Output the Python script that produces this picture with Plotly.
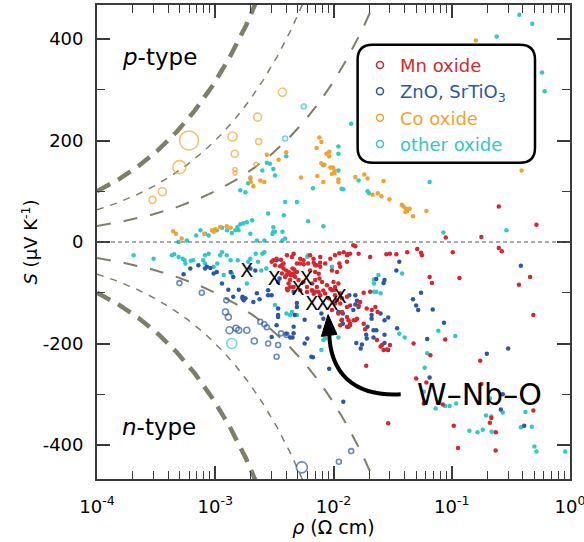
import numpy as np
import plotly.graph_objects as go

# ---------------- data (rho in ohm cm, S in uV/K) ----------------
mn_dots = [
    (3.0e-3, -39), (3.2e-3, -46), (3.54e-3, -48), (3.78e-3, -52), (3.98e-3, -56), (4.17e-3, -59),
    (4.3e-3, -62), (4.6e-3, -65.5), (4.0e-3, -65.5), (3.66e-3, -62), (3.9e-3, -69),
    (4.04e-3, -26), (4.45e-3, -29.5), (4.6e-3, -23), (5.23e-3, -33), (5.57e-3, -36), (6.35e-3, -26),
    (6.77e-3, -33), (7.73e-3, -29.5), (7.0e-3, -46), (7.73e-3, -49), (8.5e-3, -42.5), (9.4e-3, -33),
    (1.03e-2, -26), (9.7e-3, -56), (1.07e-2, -59), (1.12e-2, -42.5), (1.22e-2, -20), (1.3e-2, -26),
    (1.38e-2, -23), (1.14e-2, -49), (1.3e-2, -39),
    (4.17e-3, -82), (4.3e-3, -88.5), (4.1e-3, -95), (4.6e-3, -88.5), (4.3e-3, -75), (4.04e-3, -92),
    (5.06e-3, -75), (5.57e-3, -79), (5.96e-3, -88.5), (5.23e-3, -95), (6.56e-3, -95), (7.24e-3, -88.5),
    (7.0e-3, -98), (7.73e-3, -105), (8.5e-3, -101.5), (9.1e-3, -111), (9.7e-3, -95), (1.03e-2, -88.5),
    (1.0e-2, -79), (1.1e-2, -82), (1.14e-2, -101.5), (1.18e-2, -111), (1.03e-2, -121), (9.7e-3, -134),
    (1.18e-2, -138), (1.3e-2, -128), (1.3e-2, -148), (1.14e-2, -164), (1.3e-2, -167), (1.38e-2, -160.5),
    (1.53e-2, -154), (3.1e-3, -36), (3.3e-3, -33), (3.6e-3, -35), (3.66e-3, -46), (3.78e-3, -42.5),
    (1.47e-2, -6.5), (1.12e-2, -22), (1.31e-2, -24), (1.63e-2, -23), (2.04e-2, -29.5), (2.8e-2, -24),
    (3.0e-2, -23), (3.4e-2, -24), (4.2e-2, -20), (5.1e-2, -14), (5.6e-2, -26),
    (4.9e-3, -42.5), (5.2e-3, -42.5), (5.6e-3, -44), (6.1e-3, -42.5), (6.8e-3, -41), (7.2e-3, -46),
    (7.7e-3, -41), (4.5e-3, -52), (4.65e-3, -54), (4.9e-3, -59), (4.6e-3, -62), (4.75e-3, -69),
    (4.35e-3, -65.5), (6.35e-3, -56), (7.0e-3, -59), (7.5e-3, -62.5), (7.6e-3, -72), (8.0e-3, -79),
    (7.0e-3, -75), (6.6e-3, -82), (8.8e-3, -85), (9.4e-3, -92), (1.03e-2, -94), (8.2e-3, -95.5),
    (7.5e-3, -98.7), (6.8e-3, -102), (6.6e-3, -95.5), (5.96e-3, -98.7),
    (1.03e-2, -105), (1.07e-2, -115), (1.14e-2, -121), (1.14e-2, -102), (1.3e-2, -108), (1.38e-2, -125),
    (1.63e-2, -125), (1.68e-2, -118), (1.8e-2, -100), (2.04e-2, -98), (1.91e-2, -131), (2.11e-2, -134),
    (2.26e-2, -128), (2.36e-2, -138), (1.18e-2, -153), (1.34e-2, -154), (1.38e-2, -164), (1.48e-2, -154),
    (1.58e-2, -151), (1.8e-2, -161), (1.85e-2, -172), (2.33e-2, -193), (2.57e-2, -203), (2.65e-2, -213),
    (2.83e-2, -212), (3.0e-2, -203), (4.76e-2, -200), (1.1e-2, -141), (2.9e-2, -357), (1.89e-2, -244),
    (2.5e-2, -206), (5.0e-2, -269), (5.8e-2, -318),
    (5.5e-2, -21), (0.102, -20), (0.25, -12), (0.265, -18), (6.5e-2, -69), (6.8e-2, -81), (0.116, -71),
    (0.37, -84), (0.46, -69), (0.49, -144), (8.8e-2, -192), (6.6e-2, -223), (0.174, -234), (6.1e-2, -277),
    (0.178, -280), (8.4e-2, -320), (0.216, -347), (0.21, -356), (0.236, -375), (0.49, -332), (0.104, -362),
    (0.113, -406), (0.235, -411),
    (0.25, 70), (0.52, 34), (8.9e-2, 8.7), (0.178, 10), (1.53e-2, -8.5),
]

zn_dots = [
    (5.4e-4, -63.5), (6.15e-4, -52), (7.2e-4, -46), (8.2e-4, -52), (8.5e-4, -49), (9.1e-4, -51),
    (9.7e-4, -62), (1.03e-3, -59), (1.14e-3, -82), (1.35e-3, -59), (1.42e-3, -69), (1.29e-3, -94),
    (1.58e-3, -94), (1.7e-3, -111), (1.74e-3, -115), (1.8e-3, -111), (1.7e-3, -108), (1.42e-3, -108),
    (1.98e-3, -52), (2.18e-3, -56), (2.25e-3, -101), (2.1e-3, -118), (2.37e-3, -113), (2.8e-3, -105),
    (2.8e-3, -95), (3.0e-3, -105), (3.4e-3, -79), (3.5e-3, -72), (3.3e-3, -36), (3.4e-3, -144),
    (3.4e-3, -131), (4.6e-3, -167), (4.6e-3, -180), (4.3e-3, -188), (4.5e-3, -188), (4.0e-3, -181),
    (4.7e-3, -144), (4.9e-3, -128), (4.9e-3, -120), (4.6e-3, -98), (5.7e-3, -153), (6.0e-3, -190),
    (5.7e-3, -200), (6.5e-3, -226), (7.9e-3, -141), (8.2e-3, -151), (9.1e-3, -162), (7.6e-3, -167),
    (8.8e-3, -176), (1.1e-2, -138), (1.2e-2, -141), (1.17e-2, -154), (1.2e-2, -161), (1.34e-2, -167),
    (1.36e-2, -105), (1.53e-2, -105), (1.58e-2, -116), (1.53e-2, -123), (1.63e-2, -128), (1.47e-2, -134),
    (1.56e-2, -199), (1.74e-2, -202), (1.7e-2, -210), (1.89e-2, -183), (1.91e-2, -190), (2.18e-2, -188),
    (2.18e-2, -174), (1.94e-2, -167), (2.1e-2, -144), (2.1e-2, -151), (2.5e-2, -141), (2.7e-2, -154),
    (2.9e-2, -149), (2.3e-2, -174), (2.7e-2, -183), (2.7e-2, -199), (2.9e-2, -213), (3.45e-2, -170),
    (3.6e-2, -39), (3.4e-2, -56), (2.3e-2, -73), (2.7e-2, -75), (2.65e-2, -81), (4.7e-2, -113),
    (5.0e-2, -125), (5.2e-2, -134), (0.384, -47), (5.5e-2, -100), (6.9e-2, -133), (8.6e-2, -159),
    (6.2e-2, -191), (0.30, -210), (0.198, -220), (6.5e-2, -267), (0.27, -300), (0.26, -330),
    (0.41, -362), (1.21e-2, -315), (6.7e-3, -227), (9.2e-3, -250), (3.3e-3, -164), (3.4e-3, -148),
    (3.0e-3, -187),
]

co_dots = [
    (1.98e-3, 127), (2.0e-3, 118), (2.4e-3, 121), (2.6e-3, 118), (2.1e-3, 110), (3.43e-3, 162),
    (3.98e-3, 177), (2.73e-3, 172), (4.4e-4, 21), (4.65e-4, 16.5), (5.2e-4, 7), (8.07e-4, 16.5),
    (9.4e-4, 23), (9.7e-4, 20), (1.0e-3, 25), (1.1e-3, 29.5), (1.25e-3, 31), (1.35e-3, 28),
    (7.6e-3, 206), (7.9e-3, 197), (7.2e-3, 185), (8.7e-3, 174), (9.2e-3, 178), (9.2e-3, 169),
    (7.9e-3, 155), (8.4e-3, 152), (9.4e-3, 147), (9.9e-3, 147), (1.02e-2, 141), (1.02e-2, 136),
    (9.7e-3, 134), (7.3e-3, 130), (8.2e-3, 118), (5.3e-3, 127), (1.1e-2, 123), (1.1e-2, 118),
    (1.53e-2, 128), (1.82e-2, 133), (1.94e-2, 125), (2.65e-2, 120), (2.14e-2, 93), (2.37e-2, 96),
    (2.54e-2, 90), (2.97e-2, 84), (3.78e-2, 73.5), (3.9e-2, 70), (4.1e-2, 65.7), (4.2e-2, 61),
    (4.06e-2, 59), (4.4e-2, 65.7), (4.7e-2, 50.5), (6.1e-2, 61), (0.16, 397), (0.39, 141),
]

other_dots = [
    (3.98e-3, 169), (2.73e-3, 156), (2.9e-3, 154), (2.5e-3, 141), (3.1e-3, 144), (3.2e-3, 131),
    (1.98e-3, 125), (1.9e-3, 116), (1.63e-3, 102), (1.8e-3, 98), (3.9e-3, 79), (4.9e-3, 79),
    (2.8e-3, 56), (3.8e-3, 52.5), (3.1e-3, 29), (3.1e-3, 20), (3.05e-3, 16), (3.9e-3, 7),
    (3.7e-3, 3), (2.6e-3, 3), (2.05e-3, 43), (1.85e-3, 39), (1.73e-3, 37), (1.63e-3, 35),
    (1.54e-3, 29.5), (1.48e-3, 23), (1.38e-3, 17.7), (1.26e-3, 23), (1.14e-3, 28.3), (1.03e-3, 23),
    (8.8e-4, 13), (8.2e-4, 16.5), (6.9e-4, 13), (5.75e-4, 3), (4.9e-4, 0), (7.5e-4, 23),
    (1.57e-3, 23), (1.98e-3, 16.5), (2.25e-3, 3), (3.2e-3, 20), (3.7e-3, 20),
    (0.373, 448), (0.48, 430), (0.24, 405), (0.58, 334), (0.61, 297), (1.41e-2, 233),
    (1.1e-2, 188), (1.1e-2, 174), (6.7e-3, 106), (1.63e-2, 121), (1.17e-2, 105), (1.94e-2, 100),
    (2.0e-2, 96), (6.5e-2, 118), (6.1e-3, 41), (8.2e-3, 31), (8.5e-2, 18.5), (0.29, 23),
    (8.2e-3, 151), (1.1e-2, 141), (1.21e-2, 104),
    (2.04e-4, -26), (3.01e-4, -33), (4.3e-4, -26), (4.5e-4, -24), (4.9e-4, -29.5), (5.3e-4, -33),
    (5.5e-4, -36), (5.6e-4, -42.5), (6.2e-4, -37), (6.5e-4, -36), (8.2e-4, -26), (8.8e-4, -23),
    (9.7e-4, -49), (1.04e-3, -42.5), (1.14e-3, -20), (1.25e-3, -26), (1.35e-3, -36), (1.18e-3, -65),
    (1.38e-3, -62), (1.55e-3, -36), (1.85e-3, -82), (1.9e-3, -39), (1.98e-3, -33), (2.2e-3, -23),
    (2.3e-3, -39), (2.45e-3, -56), (2.5e-3, -23), (2.6e-3, -20), (2.7e-3, -52), (3.2e-3, -124),
    (4.0e-3, -141), (4.45e-3, -138), (4.9e-3, -144), (7.9e-4, -36), (8.2e-4, -42.5), (1.1e-3, -26),
    (4.6e-3, -24), (6.1e-3, -26), (6.0e-3, -29), (9.7e-3, -49), (4.3e-3, -144), (8.2e-3, -193),
    (8.5e-3, -190), (1.1e-2, -188), (7.9e-3, -213), (2.3e-2, -98), (2.2e-2, -98), (2.2e-2, -82),
    (2.2e-2, -74), (3.8e-2, -62), (4.0e-2, -188), (8.5e-3, -172), (2.4e-2, -65), (2.5e-2, -101),
    (7.7e-2, -175), (0.107, -185), (6.2e-2, -219), (5.9e-2, -248), (5.8e-2, -295), (7.3e-2, -328),
    (8.8e-2, -323), (9.6e-2, -323), (0.109, -318), (0.21, -308), (0.195, -342), (0.216, -344),
    (0.141, -372), (0.165, -375), (0.183, -370), (0.217, -374), (0.27, -336), (0.384, -365),
    (0.475, -364), (0.42, -335), (0.5, -403), (0.52, -413), (0.91, -413), (3.6e-2, -181),
]

# open-circle samples: rho, S and symbol diameter (px)
co_open_rho = [2.95e-4, 3.57e-4, 4.97e-4, 6.0e-4, 1.4e-3, 1.46e-3, 1.47e-3, 1.47e-3, 2.28e-3, 2.33e-3, 2.21e-3, 3.7e-3]
co_open_S = [83, 99, 147.5, 200, 208, 174, 143, 136, 246, 198, 153, 295]
co_open_d = [7, 8, 13, 19, 9, 7, 4, 4, 8, 6, 4, 8]

zn_open_rho = [4.98e-4, 7.7e-4, 1.24e-3, 1.22e-3, 1.29e-3, 1.32e-3, 1.5e-3, 1.58e-3, 1.85e-3, 2.14e-3,
               2.4e-3, 2.6e-3, 2.73e-3, 2.8e-3, 3.4e-3, 3.6e-3, 4.0e-3, 3.3e-3, 5.4e-3, 1.11e-2, 1.41e-2]
zn_open_S = [-81, -100, -115, -138, -148, -174, -170, -174, -174, -195,
             -157, -162, -168, -200, -203, -180, -183, -226, -444, -433, -412]
zn_open_d = [5, 5, 5, 6, 6, 7, 6, 6, 6, 6, 5, 5, 5, 5, 5, 5, 5, 5, 11, 5, 5]

other_open_rho = [3.9e-3, 5.6e-3, 1.38e-3]
other_open_S = [204, 267, -200]
other_open_d = [5, 5, 10]

wnbo_rho = [1.85e-3, 3.15e-3, 5.0e-3, 5.88e-3, 6.56e-3, 8.1e-3, 9.7e-3, 1.14e-2]
wnbo_S = [-60, -75, -95, -75, -124.5, -124.5, -124.5, -111.5]

pf_levels = [1e8, 4e7, 1e7]   # constant power-factor guide lines, S^2/rho in uV^2 K^-2 (ohm cm)^-1

x_tick_exp = [-4, -3, -2, -1, 0]
y_tick_vals = [-400, -200, 0, 200, 400]
y_tick_text = ["-400", "-200", "0", "200", "400"]
y_minor_vals = [-300, -100, 100, 300]

# ---------------- styling ----------------
FONT = "DejaVu Sans, Liberation Sans, Arial, sans-serif"
C_MN, C_ZN, C_CO, C_OT = "#d4282e", "#2a58a6", "#f2a230", "#33c7c9"
GUIDE = "#7f7f68"
XLOG = (-4, 0)
YR = (-467, 467)

fig = go.Figure()

def paper(rho, s):
    return ((np.log10(rho) - XLOG[0]) / (XLOG[1] - XLOG[0]), (s - YR[0]) / (YR[1] - YR[0]))

# guide curves
rho_grid = np.logspace(-4, 0, 600)
pf_style = {1e8: dict(width=4.5, dash="15px,9px"),
            4e7: dict(width=1.5, dash="7px,7px"),
            1e7: dict(width=2, dash="14px,13px")}
for pf in pf_levels:
    s = np.sqrt(pf * rho_grid)
    for sign in (1, -1):
        fig.add_trace(go.Scatter(x=rho_grid, y=sign * s, mode="lines",
                                 line=dict(color=GUIDE, **pf_style[pf]),
                                 hoverinfo="skip", showlegend=False))

def dots(pairs, color):
    return go.Scatter(x=[p[0] for p in pairs], y=[p[1] for p in pairs], mode="markers",
                      marker=dict(size=4.5, color=color, line=dict(width=0)),
                      showlegend=False)

def opens(rho, S, d, color):
    return go.Scatter(x=rho, y=S, mode="markers",
                      marker=dict(size=d, symbol="circle-open", color=color, line=dict(width=1.6)),
                      showlegend=False)

fig.add_trace(dots(other_dots, C_OT))
fig.add_trace(dots(co_dots, C_CO))
fig.add_trace(dots(zn_dots, C_ZN))
fig.add_trace(dots(mn_dots, C_MN))
fig.add_trace(opens(co_open_rho, co_open_S, co_open_d, C_CO))
fig.add_trace(opens(zn_open_rho, zn_open_S, zn_open_d, C_ZN))
fig.add_trace(opens(other_open_rho, other_open_S, other_open_d, C_OT))

fig.add_trace(go.Scatter(x=wnbo_rho, y=wnbo_S, mode="text", text=["X"] * len(wnbo_rho),
                         textfont=dict(family=FONT, size=19, color="black"),
                         textposition="middle center", showlegend=False))

# legend-only entries
for name, col in [("Mn oxide", C_MN), ("ZnO, SrTiO<sub>3</sub>", C_ZN),
                  ("Co oxide", C_CO), ("other oxide", C_OT)]:
    fig.add_trace(go.Scatter(x=[None], y=[None], mode="markers",
                             name=f'<span style="color:{col}">{name}</span>',
                             marker=dict(size=7, symbol="circle-open", color=col, line=dict(width=1.5))))

# zero line
fig.add_shape(type="line", xref="paper", yref="y", x0=0, x1=1, y0=0, y1=0,
              line=dict(color="#555555", width=1, dash="4px,3px"), layer="above")

# rounded legend frame (paper coords)
PW, PH = 473, 474
lx0, lx1, ly0, ly1 = 0.551, 0.926, 0.667, 0.916
rx, ry = 15 / PW, 15 / PH
path = (f"M {lx0+rx},{ly1} L {lx1-rx},{ly1} Q {lx1},{ly1} {lx1},{ly1-ry} "
        f"L {lx1},{ly0+ry} Q {lx1},{ly0} {lx1-rx},{ly0} L {lx0+rx},{ly0} "
        f"Q {lx0},{ly0} {lx0},{ly0+ry} L {lx0},{ly1-ry} Q {lx0},{ly1} {lx0+rx},{ly1} Z")
fig.add_shape(type="path", xref="paper", yref="paper", path=path,
              fillcolor="white", line=dict(color="black", width=2.5), layer="above")

# curved arrow to the W-Nb-O points
a0 = paper(0.037, -300)
a1 = paper(0.0144, -305)
a2 = paper(9.4e-3, -256)
a3 = paper(9.2e-3, -180)
fig.add_shape(type="path", xref="paper", yref="paper",
              path=f"M {a0[0]},{a0[1]} C {a1[0]},{a1[1]} {a2[0]},{a2[1]} {a3[0]},{a3[1]}",
              line=dict(color="black", width=4), layer="above")
h0 = paper(9.0e-3, -143)
h1 = paper(7.9e-3, -186)
h2 = paper(1.07e-2, -182)
fig.add_shape(type="path", xref="paper", yref="paper",
              path=f"M {h0[0]},{h0[1]} L {h1[0]},{h1[1]} L {h2[0]},{h2[1]} Z",
              fillcolor="black", line=dict(color="black", width=1), layer="above")

tx, ty = paper(0.049, -301)
fig.add_annotation(x=tx, y=ty, xref="paper", yref="paper", text="W\u2013Nb\u2013O",
                   showarrow=False, xanchor="left", yanchor="middle",
                   font=dict(family=FONT, size=30, color="black"))
px_, py_ = paper(1.57e-4, 365)
fig.add_annotation(x=px_, y=py_, xref="paper", yref="paper", text="<i>p</i>-type",
                   showarrow=False, xanchor="left", yanchor="middle",
                   font=dict(family=FONT, size=23, color="black"))
nx_, ny_ = paper(1.57e-4, -365)
fig.add_annotation(x=nx_, y=ny_, xref="paper", yref="paper", text="<i>n</i>-type",
                   showarrow=False, xanchor="left", yanchor="middle",
                   font=dict(family=FONT, size=23, color="black"))

x_minor = [k * 10.0 ** n for n in range(-4, 0) for k in range(2, 10)]

axis_common = dict(showline=True, linecolor="#3a3a3a", linewidth=1.8, mirror="ticks",
                   ticks="inside", ticklen=13, tickwidth=1.5, tickcolor="#3a3a3a",
                   showgrid=False, zeroline=False, ticklabeloverflow="allow",
                   tickfont=dict(family=FONT, size=18, color="black"))

fig.update_xaxes(type="log", range=list(XLOG), tickmode="array",
                 tickvals=[10.0 ** e for e in x_tick_exp],
                 ticktext=[f"10<sup>{e}</sup>" for e in x_tick_exp],
                 minor=dict(tickmode="array", tickvals=x_minor, ticks="inside", ticklen=8,
                            tickwidth=1.3, tickcolor="#3a3a3a"),
                 ticklabelstandoff=10,
                 title=dict(text="<i>\u03c1</i> (\u03a9 cm)", standoff=2,
                            font=dict(family=FONT, size=19, color="black")),
                 **axis_common)
fig.update_yaxes(range=list(YR), tickmode="array", tickvals=y_tick_vals, ticktext=y_tick_text,
                 minor=dict(tickmode="array", tickvals=y_minor_vals, ticks="inside", ticklen=8,
                            tickwidth=1.3, tickcolor="#3a3a3a"),
                 ticklabelstandoff=8,
                 title=dict(text="<i>S</i> (\u03bcV K<sup>-1</sup>)", standoff=0,
                            font=dict(family=FONT, size=18, color="black")),
                 **axis_common)

fig.update_layout(
    width=584, height=542,
    margin=dict(l=97, r=14, t=5, b=63, autoexpand=False),
    paper_bgcolor="white", plot_bgcolor="white",
    font=dict(family=FONT, color="black"),
    legend=dict(x=0.556, y=0.912, xanchor="left", yanchor="top",
                bgcolor="rgba(0,0,0,0)", borderwidth=0,
                font=dict(family=FONT, size=18), traceorder="normal",
                itemwidth=30, tracegroupgap=0),
)

fig.write_html("out.html", config={"displayModeBar": False},
               post_script="document.body.style.margin='0';")
